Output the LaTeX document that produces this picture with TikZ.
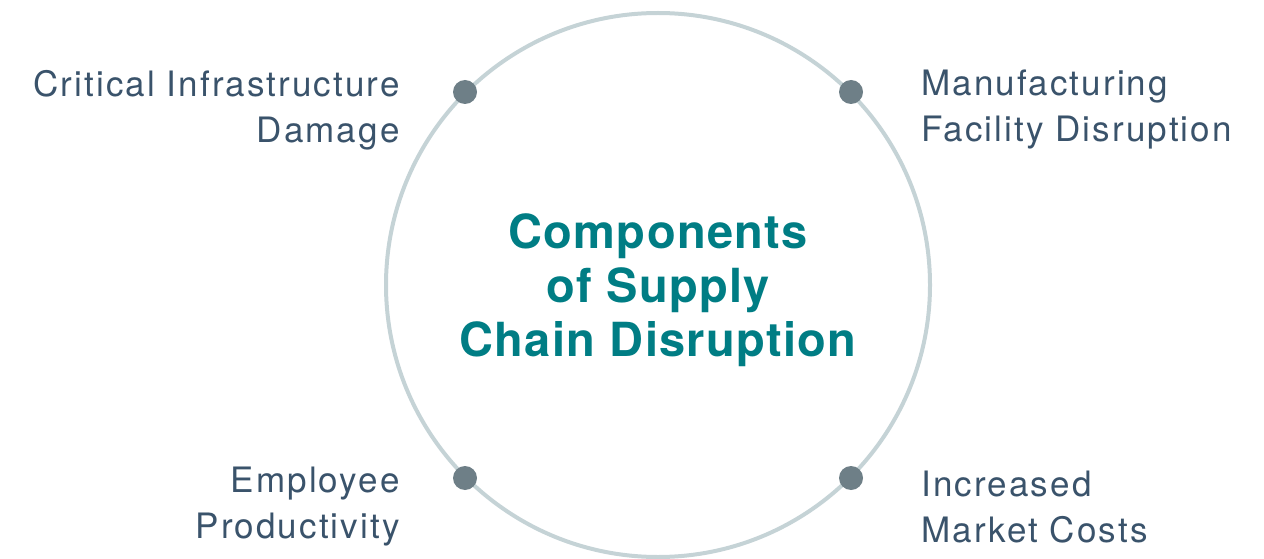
\documentclass[tikz,border=0pt]{standalone}
\usepackage{fontspec}
\setmainfont{TeX Gyre Heros}
\newfontfamily\lblfont[LetterSpace=6]{TeX Gyre Heros}
\newfontfamily\titlefont[LetterSpace=2.8]{TeX Gyre Heros}
\usetikzlibrary{positioning}
\definecolor{ringgray}{HTML}{C5D3D6}
\definecolor{dotgray}{HTML}{6E7F87}
\definecolor{labelblue}{HTML}{3A536B}
\definecolor{titleteal}{HTML}{007D84}
\begin{document}
\begin{tikzpicture}[x=1pt, y=1pt,
    dot/.style={circle, fill=dotgray, inner sep=0pt, minimum size=24pt},
    lbl/.style={text=labelblue, inner sep=0pt, font=\lblfont\fontsize{35}{46}\selectfont},
    title/.style={text=titleteal, inner sep=0pt, align=center, font=\titlefont\fontsize{47}{54}\selectfont\bfseries}]
            \useasboundingbox (0,0) rectangle (1264,558);
            \node[circle, draw=ringgray, line width=4pt, inner sep=0pt, minimum size=544pt] (ring) at (658,273) {};
            \node[title] (t) at (658,268) {Components\\of Supply\\Chain Disruption};

            \node[dot] (d1) at (465,466) {};
            \node[dot] (d2) at (851,466) {};
            \node[dot] (d3) at (465,80) {};
            \node[dot] (d4) at (851,80) {};

            \node[lbl, align=right, left = 53pt of d1, yshift=-18pt] (l1) {Critical Infrastructure\\Damage};
            \node[lbl, align=left, right = 58pt of d2, yshift=-18pt] (l2) {Manufacturing\\Facility Disruption};
            \node[lbl, align=right, left = 53pt of d3, yshift=-29pt] (l3) {Employee\\Productivity};
            \node[lbl, align=left, right = 58pt of d4, yshift=-29pt] (l4) {Increased\\Market Costs};
        \end{tikzpicture}
\end{document}
